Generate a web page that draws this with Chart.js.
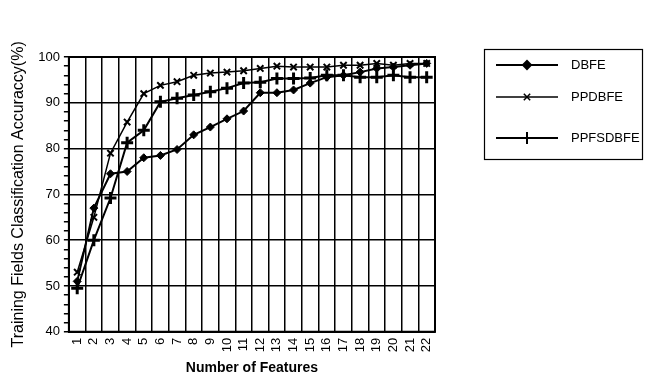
<!DOCTYPE html>
<html>
<head>
<meta charset="utf-8">
<script src="https://cdn.jsdelivr.net/npm/chart.js@4.4.1/dist/chart.umd.min.js"></script>
<style>
html,body{margin:0;padding:0;background:#fff;}
#wrap{width:660px;height:380px;position:relative;}
</style>
</head>
<body>
<div id="wrap"><canvas id="c" width="660" height="380"></canvas></div>
<script>
const categories = ["1","2","3","4","5","6","7","8","9","10","11","12","13","14","15","16","17","18","19","20","21","22"];
const dbfe     = [51, 67, 74.5, 75, 78, 78.5, 79.8, 83, 84.7, 86.5, 88.2, 92.2, 92.2, 92.8, 94.3, 95.6, 96, 96.7, 97.5, 97.8, 98.2, 98.6];
const ppdbfe   = [53, 65, 79, 85.8, 92, 93.8, 94.6, 96, 96.5, 96.7, 97, 97.5, 98, 97.8, 97.8, 97.8, 98.2, 98.2, 98.6, 98.2, 98.6, 98.6];
const ppfsdbfe = [49.5, 60, 69.2, 81.3, 84, 90.2, 91, 91.7, 92.4, 93.2, 94.3, 94.5, 95.3, 95.3, 95.4, 96, 96, 95.6, 95.6, 96, 95.6, 95.6];
const yTickValues = [40, 50, 60, 70, 80, 90, 100];
const seriesNames = ["DBFE", "PPDBFE", "PPFSDBFE"];

const FONT = "'Liberation Sans', Arial, sans-serif";

const legendPlugin = {
  id: 'boxLegend',
  afterDraw(chart) {
    const ctx = chart.ctx;
    ctx.save();
    ctx.strokeStyle = '#000';
    ctx.lineWidth = 1.2;
    ctx.strokeRect(484.5, 49.5, 158, 110);
    const rows = [65, 97, 138];
    chart.data.datasets.forEach((ds, i) => {
      const y = rows[i];
      ctx.beginPath();
      ctx.strokeStyle = '#000';
      ctx.lineWidth = ds.borderWidth;
      ctx.moveTo(496, y);
      ctx.lineTo(558, y);
      ctx.stroke();
      Chart.helpers.drawPoint(ctx, {
        pointStyle: ds.pointStyle,
        radius: ds.pointRadius,
        borderWidth: ds.pointBorderWidth,
        rotation: 0
      }, 527, y);
      ctx.fillStyle = '#000';
      ctx.font = "13px " + FONT;
      ctx.textBaseline = 'middle';
      ctx.textAlign = 'left';
      ctx.fillText(ds.label, 571, y);
    });
    ctx.restore();
  }
};

new Chart(document.getElementById('c'), {
  type: 'line',
  data: {
    labels: categories,
    datasets: [
      { label: seriesNames[0], data: dbfe, borderColor: '#000', backgroundColor: '#000', borderWidth: 2,
        pointStyle: 'rectRot', pointRadius: 4, pointBorderWidth: 1, pointBackgroundColor: '#000', pointBorderColor: '#000', tension: 0 },
      { label: seriesNames[1], data: ppdbfe, borderColor: '#000', backgroundColor: '#000', borderWidth: 1.5,
        pointStyle: 'crossRot', pointRadius: 4.5, pointBorderWidth: 2, pointBorderColor: '#000', tension: 0 },
      { label: seriesNames[2], data: ppfsdbfe, borderColor: '#000', backgroundColor: '#000', borderWidth: 2,
        pointStyle: 'cross', pointRadius: 6, pointBorderWidth: 3, pointBorderColor: '#000', tension: 0 }
    ]
  },
  options: {
    responsive: false,
    animation: false,
    devicePixelRatio: 1,
    layout: { padding: { left: 9, right: 225, top: 57, bottom: 0 } },
    plugins: { legend: { display: false }, tooltip: { enabled: false } },
    scales: {
      x: {
        offset: true,
        grid: { offset: true, color: '#000', lineWidth: 1.5, tickLength: 0, drawTicks: false },
        border: { color: '#000', width: 2 },
        ticks: { color: '#000', font: { family: FONT, size: 13 }, minRotation: 90, maxRotation: 90, autoSkip: false, padding: 6 },
        title: { display: true, text: 'Number of Features', color: '#000', font: { family: FONT, size: 14, weight: 'bold' }, padding: { top: 2, bottom: 3 } }
      },
      y: {
        min: 40, max: 100,
        afterBuildTicks(axis) {
          const t = [];
          for (let v = 40; v <= 100; v += 2) t.push({ value: v });
          axis.ticks = t;
        },
        grid: {
          color: (c) => (c.tick && yTickValues.includes(c.tick.value)) ? '#000' : 'rgba(0,0,0,0)',
          tickColor: '#000',
          lineWidth: 1.5,
          tickLength: 5,
          drawTicks: true
        },
        border: { color: '#000', width: 2 },
        ticks: {
          color: '#000', font: { family: FONT, size: 13 }, autoSkip: false, padding: 4,
          callback: (v) => yTickValues.includes(v) ? String(v) : ''
        },
        title: { display: true, text: 'Training Fields Classification Accuraccy(%)', color: '#000', font: { family: FONT, size: 16 }, padding: { top: 0, bottom: 6 } }
      }
    }
  },
  plugins: [legendPlugin, {
    id: 'frame',
    afterDatasetsDraw(chart) {
      const a = chart.chartArea, ctx = chart.ctx;
      ctx.save();
      ctx.strokeStyle = '#000';
      ctx.lineWidth = 2;
      ctx.strokeRect(a.left, a.top, a.right - a.left, a.bottom - a.top);
      ctx.restore();
    }
  }]
});
</script>
</body>
</html>
